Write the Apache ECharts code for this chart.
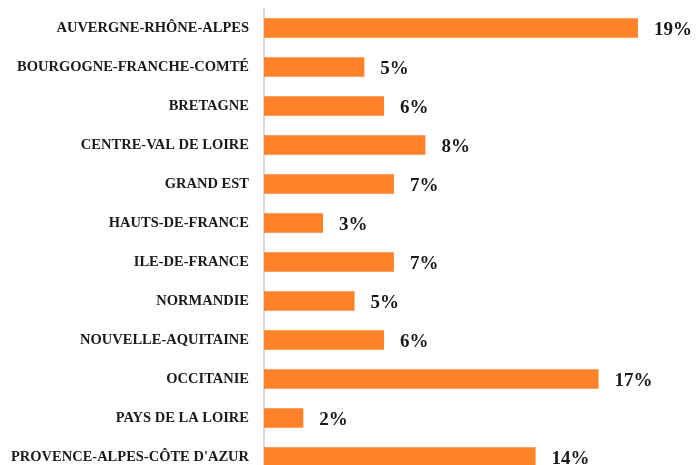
<!DOCTYPE html>
<html>
<head>
<meta charset="utf-8">
<script src="https://cdn.jsdelivr.net/npm/echarts@6/dist/echarts.min.js"></script>
<style>
html,body{margin:0;padding:0;background:#fff;}
#chart{width:696px;height:465px;}
</style>
</head>
<body>
<div id="chart"></div>
<script>
const categories = [
  "AUVERGNE-RHÔNE-ALPES",
  "BOURGOGNE-FRANCHE-COMTÉ",
  "BRETAGNE",
  "CENTRE-VAL DE LOIRE",
  "GRAND EST",
  "HAUTS-DE-FRANCE",
  "ILE-DE-FRANCE",
  "NORMANDIE",
  "NOUVELLE-AQUITAINE",
  "OCCITANIE",
  "PAYS DE LA LOIRE",
  "PROVENCE-ALPES-CÔTE D'AZUR"
];
const values = [19.0, 5.1, 6.1, 8.2, 6.6, 3.0, 6.6, 4.6, 6.1, 17.0, 2.0, 13.8];

const chart = echarts.init(document.getElementById('chart'), null, {renderer: 'canvas'});
chart.setOption({
  animation: false,
  backgroundColor: '#ffffff',
  grid: {left: 264, width: 393.6, top: 8.5, height: 468, containLabel: false, outerBoundsMode: 'none'},
  xAxis: {
    type: 'value', min: 0, max: 20,
    show: false
  },
  yAxis: {
    type: 'category', data: categories, inverse: true,
    axisLine: {show: true, lineStyle: {color: '#d9d9d9', width: 2}},
    axisTick: {show: false},
    axisLabel: {
      margin: 15,
      color: '#1a1a1a',
      fontFamily: 'Liberation Serif',
      fontWeight: 'bold',
      fontSize: 14.5
    }
  },
  series: [{
    type: 'bar',
    data: values,
    barWidth: '50%',
    itemStyle: {color: '#FF8128'},
    label: {
      show: true,
      position: 'right',
      distance: 16,
      offset: [0, 2],
      formatter: p => Math.round(p.value) + '%',
      color: '#1a1a1a',
      fontFamily: 'Liberation Serif',
      fontWeight: 'bold',
      fontSize: 19
    }
  }]
});
</script>
</body>
</html>
